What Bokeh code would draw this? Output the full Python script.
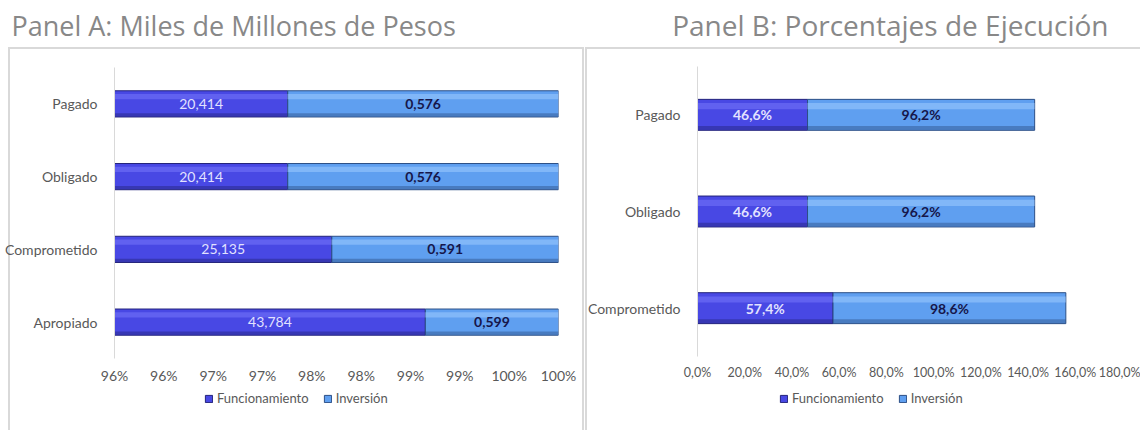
from bokeh.plotting import figure
from bokeh.models import (ColumnDataSource, FactorRange, Range1d, FixedTicker, Legend,
                          LegendItem, LabelSet, Title)
from bokeh.layouts import row, column
from bokeh.transform import dodge
from bokeh.core.properties import value
from bokeh.embed import file_html
from bokeh.resources import INLINE

# ---------------- data ----------------
cats_a = ["Apropiado", "Comprometido", "Obligado", "Pagado"]
func_a = [43.784, 25.135, 20.414, 20.414]
inv_a = [0.599, 0.591, 0.576, 0.576]
ticks_a = [95.5, 96.0, 96.5, 97.0, 97.5, 98.0, 98.5, 99.0, 99.5, 100.0]
tick_labels_a = ["96%", "96%", "97%", "97%", "98%", "98%", "99%", "99%", "100%", "100%"]

cats_b = ["Comprometido", "Obligado", "Pagado"]
func_b = [57.4, 46.6, 46.6]
inv_b = [98.6, 96.2, 96.2]
ticks_b = [0, 20, 40, 60, 80, 100, 120, 140, 160, 180]
tick_labels_b = ["0,0%", "20,0%", "40,0%", "60,0%", "80,0%", "100,0%", "120,0%", "140,0%", "160,0%", "180,0%"]

series = ["Funcionamiento", "Inversión"]
title_a = "Panel A: Miles de Millones de Pesos"
title_b = "Panel B: Porcentajes de Ejecución"

# ---------------- style ----------------
LBL = "Lato"
TITLE_FONT = "Open Sans"
C_FUNC = "#4848e4"
C_FUNC_HI = "#8080ff"
C_FUNC_EDGE = "#23237a"
C_INV = "#5f9ff0"
C_INV_HI = "#9ccbff"
C_INV_EDGE = "#2c4f86"
AXIS_TXT = "#595959"
H_TITLE = 47
H_MAIN = 339
H_LEG = 44


def box_css(width, left, right_line, top_line):
    g = "linear-gradient(#d9d9d9,#d9d9d9)"
    imgs, pos, size = [g], [f"{left}px 0px"], ["2px 500px"]
    if top_line:
        imgs.append(g)
        pos.append(f"{left}px 0px")
        size.append(f"{width}px 2px")
    if right_line is not None:
        imgs.append(g)
        pos.append(f"{right_line}px 0px")
        size.append("2px 500px")
    return {
        "background-image": ", ".join(imgs),
        "background-position": ", ".join(pos),
        "background-size": ", ".join(size),
        "background-repeat": "no-repeat",
    }


def blank_fig(width, height, mb_top):
    f = figure(width=width, height=height, x_range=Range1d(0, 1), y_range=Range1d(0, 1),
               output_backend="svg", toolbar_location=None,
               x_axis_location=None, y_axis_location=None,
               min_border=0, min_border_left=0, min_border_right=0,
               min_border_top=mb_top, min_border_bottom=0)
    f.grid.visible = False
    f.outline_line_color = None
    f.background_fill_alpha = 0
    f.border_fill_alpha = 0
    return f


def title_fig(width, text, align, offset, size):
    tf = blank_fig(width, H_TITLE, 44)
    tf.add_layout(Title(text=text, align=align, offset=offset, standoff=2,
                        text_font=TITLE_FONT, text_font_size=size, text_font_style="normal",
                        text_color="#888888"), "above")
    return tf


def base_fig(width, cats, xr, mb_left, mb_right, mb_top, mb_bottom):
    p = figure(width=width, height=H_MAIN, y_range=FactorRange(*cats), x_range=xr,
               output_backend="svg", toolbar_location=None,
               min_border_left=mb_left, min_border_right=mb_right,
               min_border_top=mb_top, min_border_bottom=mb_bottom)
    p.outline_line_color = None
    p.xgrid.visible = False
    p.ygrid.visible = False
    p.background_fill_alpha = 0
    p.border_fill_alpha = 0
    ya = p.yaxis[0]
    ya.axis_line_color = "#d9d9d9"
    ya.axis_line_width = 1
    ya.major_tick_line_color = None
    ya.minor_tick_line_color = None
    ya.major_label_text_font = LBL
    ya.major_label_text_font_size = "14px"
    ya.major_label_text_color = AXIS_TXT
    ya.major_label_standoff = 11
    xa = p.xaxis[0]
    xa.axis_line_color = None
    xa.major_tick_line_color = None
    xa.minor_tick_line_color = None
    xa.major_label_text_font = LBL
    xa.major_label_text_font_size = "14px"
    xa.major_label_text_color = AXIS_TXT
    xa.major_label_standoff = 2
    return p


def add_bars(p, src, height, f_bold):
    p.hbar(y="cat", left="f_l", right="f_r", height=height, source=src,
           fill_color=C_FUNC, line_color=C_FUNC_EDGE, line_width=1)
    p.hbar(y="cat", left="i_l", right="i_r", height=height, source=src,
           fill_color=C_INV, line_color=C_INV_EDGE, line_width=1)
    p.hbar(y=dodge("cat", height * 0.28, range=p.y_range), left="f_l", right="f_r",
           height=height * 0.2, source=src, fill_color=C_FUNC_HI, fill_alpha=0.45, line_color=None)
    p.hbar(y=dodge("cat", height * 0.28, range=p.y_range), left="i_l", right="i_r",
           height=height * 0.2, source=src, fill_color=C_INV_HI, fill_alpha=0.55, line_color=None)
    p.hbar(y=dodge("cat", -height * 0.42, range=p.y_range), left="f_l", right="f_r",
           height=height * 0.12, source=src, fill_color=C_FUNC_EDGE, fill_alpha=0.45, line_color=None)
    p.hbar(y=dodge("cat", -height * 0.42, range=p.y_range), left="i_l", right="i_r",
           height=height * 0.12, source=src, fill_color=C_INV_EDGE, fill_alpha=0.45, line_color=None)
    p.add_layout(LabelSet(x="f_x", y="cat", text="f_txt", source=src, text_align="center",
                          text_baseline="middle", text_font=value(LBL), text_font_size="14px",
                          text_font_style="bold" if f_bold else "normal",
                          text_color="#e2e2ff"))
    p.add_layout(LabelSet(x="i_x", y="cat", text="i_txt", source=src, text_align="center",
                          text_baseline="middle", text_font=value(LBL), text_font_size="14px",
                          text_font_style="bold", text_color="#16164a"))


def legend_fig(width, x, css):
    lf = blank_fig(width, H_LEG, 0)
    # swatch-only renderers (kept outside the visible range; used only for the legend)
    swatch = ColumnDataSource(dict(y=[-10], l=[-10], r=[-9]))
    rf = lf.hbar(y="y", left="l", right="r", height=1, source=swatch,
                 fill_color=C_FUNC, line_color=C_FUNC_EDGE)
    ri = lf.hbar(y="y", left="l", right="r", height=1, source=swatch,
                 fill_color=C_INV, line_color=C_INV_EDGE)
    leg = Legend(items=[LegendItem(label=series[0], renderers=[rf]),
                        LegendItem(label=series[1], renderers=[ri])],
                 orientation="horizontal", location=(x, 24),
                 glyph_width=9, glyph_height=9, label_standoff=4, spacing=14,
                 padding=0, margin=0, border_line_color=None, background_fill_alpha=0,
                 label_text_font=LBL, label_text_font_size="13px",
                 label_text_color=AXIS_TXT)
    lf.add_layout(leg, "center")
    lf.styles = css
    return lf


def fmt_num(v, dec):
    return f"{v:.{dec}f}".replace(".", ",")


# ---------------- Panel A ----------------
share_a = [f / (f + i) * 100 for f, i in zip(func_a, inv_a)]
xa_start, xa_end = ticks_a[0], ticks_a[-1]
src_a = ColumnDataSource(dict(
    cat=cats_a,
    f_l=[0] * len(cats_a), f_r=share_a,
    i_l=share_a, i_r=[100] * len(cats_a),
    f_x=[(xa_start + s) / 2 for s in share_a],
    i_x=[(s + xa_end) / 2 for s in share_a],
    f_txt=[fmt_num(v, 3) for v in func_a],
    i_txt=[fmt_num(v, 3) for v in inv_a],
))
ta = title_fig(584, title_a, "left", -103, "27px")
pa = base_fig(584, cats_a, Range1d(xa_start, xa_end), 114, 26, 20, 25)
pa.xaxis[0].ticker = FixedTicker(ticks=ticks_a)
pa.xaxis[0].major_label_overrides = {t: l for t, l in zip(ticks_a, tick_labels_a)}
add_bars(pa, src_a, 0.36, False)
pa.styles = box_css(576, 8, 582, True)
la = legend_fig(584, 90, box_css(576, 8, 582, False))

# ---------------- Panel B ----------------
src_b = ColumnDataSource(dict(
    cat=cats_b,
    f_l=[0] * len(cats_b), f_r=func_b,
    i_l=func_b, i_r=[f + i for f, i in zip(func_b, inv_b)],
    f_x=[f / 2 for f in func_b],
    i_x=[f + i / 2 for f, i in zip(func_b, inv_b)],
    f_txt=[fmt_num(v, 1) + "%" for v in func_b],
    i_txt=[fmt_num(v, 1) + "%" for v in inv_b],
))
tb = title_fig(556, title_b, "right", 14, "28px")
pb = base_fig(556, cats_b, Range1d(ticks_b[0], ticks_b[-1]), 111, 18, 19, 30)
pb.xaxis[0].ticker = FixedTicker(ticks=ticks_b)
pb.xaxis[0].major_label_overrides = {t: l for t, l in zip(ticks_b, tick_labels_b)}
pb.xaxis[0].major_label_text_font_size = "12.5px"
add_bars(pb, src_b, 0.32, True)
pb.styles = box_css(556, 1, None, True)
lb = legend_fig(556, 82, box_css(556, 1, None, False))

layout = row(column(ta, pa, la, spacing=0), column(tb, pb, lb, spacing=0), spacing=0)
open("out.html", "w").write(file_html(layout, INLINE))
